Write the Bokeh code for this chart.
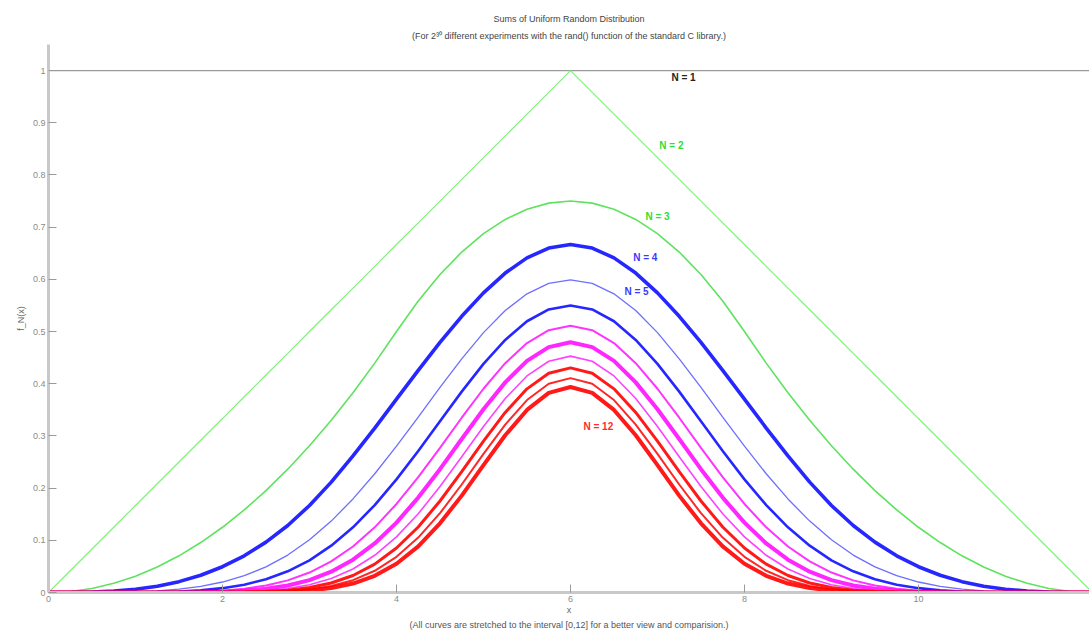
from bokeh.plotting import figure
from bokeh.models import Title, Label, FixedTicker
from bokeh.embed import file_html
from bokeh.resources import INLINE

# x positions (left half, 0..6 step 0.25); curves are symmetric about x = 6
X_HALF = [0, 0.25, 0.5, 0.75, 1, 1.25, 1.5, 1.75, 2, 2.25, 2.5, 2.75, 3,
          3.25, 3.5, 3.75, 4, 4.25, 4.5, 4.75, 5, 5.25, 5.5, 5.75, 6]

N1 = [1, 1, 1, 1, 1, 1, 1, 1, 1, 1, 1, 1, 1, 1, 1, 1, 1, 1, 1, 1, 1, 1, 1, 1, 1]
N2 = [0, .0417, .0833, .125, .1667, .2083, .25, .2917, .3333, .375, .4167, .4583, .5,
      .5417, .5833, .625, .6667, .7083, .75, .7917, .8333, .875, .9167, .9583, 1]
N3 = [0, .0020, .0078, .0176, .0313, .0488, .0703, .0957, .125, .1582, .1953, .2363, .2813,
      .3301, .3828, .4395, .5, .5586, .6094, .6523, .6875, .7148, .7344, .7461, .75]
N4 = [0, .0001, .0008, .0026, .0062, .0121, .0208, .0331, .0494, .0703, .0965, .1284, .1667,
      .2115, .2616, .3151, .3704, .4256, .4792, .5292, .5741, .6120, .6412, .6600, .6667]
N5 = [0, 0, .0001, .0004, .0013, .0031, .0064, .0118, .0201, .0322, .0491, .0717, .1009,
      .1368, .1793, .2275, .2804, .3362, .3929, .4478, .4980, .5403, .5723, .5922, .5990]
N6 = [0, 0, 0, .0001, .0003, .0008, .0020, .0043, .0083, .0150, .0254, .0406, .0617,
      .0897, .1249, .1675, .2167, .2710, .3281, .3849, .4380, .4840, .5197, .5423, .55]
N7 = [0, 0, 0, 0, .0001, .0002, .0006, .0016, .0035, .0071, .0133, .0232, .0382,
      .0595, .0882, .1249, .1696, .2210, .2771, .3349, .3904, .4394, .4779, .5026, .5110]
N8 = [0, 0, 0, 0, 0, .0001, .0002, .0006, .0015, .0034, .0070, .0134, .0238,
      .0398, .0628, .0940, .1339, .1819, .2363, .2941, .3512, .4026, .4437, .4702, .4794]
N9 = [0, 0, 0, 0, 0, 0, .0001, .0002, .0006, .0016, .0037, .0078, .0150,
      .0268, .0451, .0713, .1065, .1508, .2030, .2602, .3181, .3716, .4149, .4431, .4529]
N10 = [0, 0, 0, 0, 0, 0, 0, .0001, .0003, .0008, .0020, .0045, .0095,
       .0182, .0325, .0543, .0852, .1255, .1753, .2315, .2899, .3450, .3902, .4201, .4304]
N11 = [0, 0, 0, 0, 0, 0, 0, 0, .0001, .0004, .0011, .0027, .0060,
       .0124, .0236, .0416, .0683, .1052, .1520, .2069, .2655, .3218, .3687, .4000, .4108]
N12 = [0, 0, 0, 0, 0, 0, 0, 0, .0001, .0002, .0006, .0016, .0038,
       .0085, .0172, .0320, .0552, .0884, .1325, .1856, .2440, .3012, .3498, .3824, .3937]

SERIES = [N1, N2, N3, N4, N5, N6, N7, N8, N9, N10, N11, N12]

XTICKS = [0, 2, 4, 6, 8, 10, 12]
YTICKS = [0, 0.1, 0.2, 0.3, 0.4, 0.5, 0.6, 0.7, 0.8, 0.9, 1]
YTICK_LABELS = ["0", "0.1", "0.2", "0.3", "0.4", "0.5", "0.6", "0.7", "0.8", "0.9", "1"]

TITLE = "Sums of Uniform Random Distribution"
SUBTITLE = "(For 2\u00b3\u2070 different experiments with the rand() function of the standard C library.)"
NOTE = "(All curves are stretched to the interval [0,12] for a better view and comparision.)"

FONT = "Liberation Sans"

# full x grid (mirror of the half grid)
X_FULL = X_HALF + [12 - v for v in X_HALF[-2::-1]]

p = figure(width=1089, height=630, x_range=(0, 11.966), y_range=(0, 1.05),
           output_backend="svg", toolbar_location=None,
           min_border_left=48, min_border_right=0, min_border_top=44, min_border_bottom=35)
p.outline_line_color = None
p.xgrid.visible = False
p.ygrid.visible = False
p.background_fill_color = "white"
p.border_fill_color = "white"

styles = [
    ("#9a9a9a", 1.3, 1.0),   # N=1
    ("#7ef07e", 1.2, 1.0),   # N=2
    ("#5ee35e", 1.6, 1.0),   # N=3
    ("#0000ff", 3.6, 0.85),  # N=4
    ("#3030ff", 1.3, 0.7),   # N=5
    ("#0000ff", 2.6, 0.85),  # N=6
    ("#ff00ff", 2.0, 0.8),   # N=7
    ("#ff00ff", 4.0, 0.85),  # N=8
    ("#ff00ff", 1.6, 0.75),  # N=9
    ("#ff0000", 3.0, 0.9),   # N=10
    ("#ff0000", 2.0, 0.85),  # N=11
    ("#ff0000", 4.0, 0.9),   # N=12
]

for half, (col, w, a) in zip(SERIES, styles):
    full = half + half[-2::-1]
    p.line(X_FULL, full, line_color=col, line_width=w, line_alpha=a)

# axes styling
for ax in (p.xaxis[0], p.yaxis[0]):
    ax.axis_line_color = "#c8c8c8"
    ax.axis_line_width = 3
    ax.major_tick_line_color = "#9a9a9a"
    ax.major_tick_line_width = 1
    ax.major_tick_in = 8
    ax.major_tick_out = 0
    ax.minor_tick_line_color = None
    ax.major_label_text_font = FONT
    ax.major_label_text_font_size = "9px"
    ax.major_label_text_color = "#8a8a8a"
    ax.axis_label_text_font = FONT
    ax.axis_label_text_font_size = "9px"
    ax.axis_label_text_font_style = "normal"
    ax.axis_label_text_color = "#666666"

p.xaxis.ticker = FixedTicker(ticks=XTICKS)
p.xaxis.major_label_standoff = 3
p.xaxis.axis_label = "x"
p.xaxis.axis_label_standoff = 0

p.yaxis.ticker = FixedTicker(ticks=YTICKS)
p.yaxis.major_label_overrides = {t: s for t, s in zip(YTICKS, YTICK_LABELS)}
p.yaxis.major_label_standoff = 3
p.yaxis.axis_label = "f_N(x)"
p.yaxis.axis_label_standoff = 4

# titles (subtitle added first so it sits nearest the plot)
p.add_layout(Title(text=SUBTITLE, align="center", text_font=FONT, text_font_size="9px",
                   text_font_style="normal", text_color="#444444", standoff=8), "above")
p.add_layout(Title(text=TITLE, align="center", text_font=FONT, text_font_size="9px",
                   text_font_style="normal", text_color="#444444", standoff=2), "above")
p.add_layout(Title(text=NOTE, align="center", text_font=FONT, text_font_size="9px",
                   text_font_style="normal", text_color="#555555", standoff=1), "below")

labels = [
    ("N = 1", 7.30, 0.987, "#222222"),
    ("N = 2", 7.16, 0.857, "#33dd33"),
    ("N = 3", 7.00, 0.721, "#33dd33"),
    ("N = 4", 6.86, 0.641, "#3a3aff"),
    ("N = 5", 6.76, 0.576, "#3a3aff"),
    ("N = 12", 6.32, 0.319, "#ff2a2a"),
]
for txt, lx, ly, col in labels:
    p.add_layout(Label(x=lx, y=ly, text=txt, text_color=col, text_font=FONT,
                       text_font_size="10px", text_font_style="bold",
                       text_align="center", text_baseline="middle"))

open("out.html", "w").write(file_html(p, INLINE))
